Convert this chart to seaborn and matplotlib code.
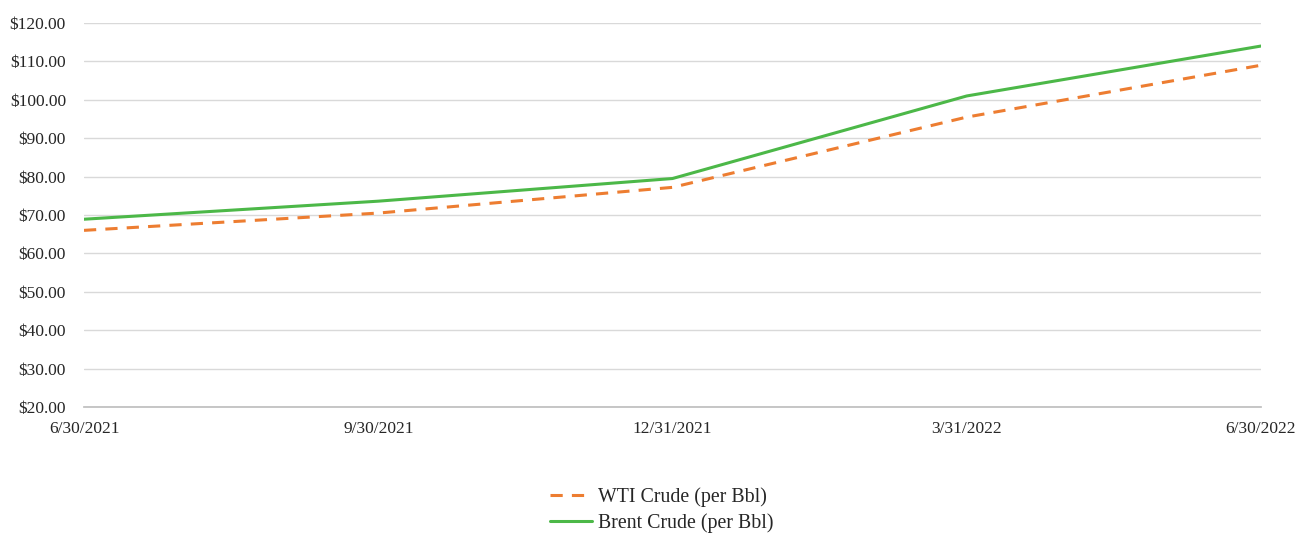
import matplotlib
matplotlib.use("Agg")
import matplotlib.pyplot as plt
import seaborn as sns
import pandas as pd
from matplotlib.lines import Line2D

dates = ["6/30/2021", "9/30/2021", "12/31/2021", "3/31/2022", "6/30/2022"]
wti = [66.0, 70.5, 77.2, 95.5, 109.0]
brent = [68.9, 73.6, 79.5, 101.0, 114.0]
y_ticks = [20, 30, 40, 50, 60, 70, 80, 90, 100, 110, 120]

sns.set_theme(style="white")
plt.rcParams['font.family'] = ['Liberation Serif', 'DejaVu Serif']

df = pd.DataFrame({
    "pos": list(range(len(dates))) * 2,
    "price": wti + brent,
    "series": ["WTI Crude (per Bbl)"] * len(dates) + ["Brent Crude (per Bbl)"] * len(dates),
})

fig = plt.figure(figsize=(12.98, 5.37), dpi=100)
ax = fig.add_axes([84/1298, 1 - 407/537, (1261-84)/1298, (407-23)/537])

palette = {"WTI Crude (per Bbl)": "#ED7D31", "Brent Crude (per Bbl)": "#4CB848"}
sns.lineplot(data=df, x="pos", y="price", hue="series", palette=palette,
             style="series", dashes={"WTI Crude (per Bbl)": (4, 3), "Brent Crude (per Bbl)": ""},
             linewidth=2.2, ax=ax, legend=False)

ax.set_xlim(0, len(dates) - 1)
ax.set_ylim(20, 120)
ax.set_yticks(y_ticks)
ax.set_yticklabels([f"${v:.2f}" for v in y_ticks], fontsize=12.5, color="#262626")
ax.set_xticks(range(len(dates)))
ax.set_xticklabels(dates, fontsize=12.5, color="#262626")
ax.set_xlabel("")
ax.set_ylabel("")
ax.grid(axis="y", color="#d9d9d9", linewidth=1)
ax.set_axisbelow(True)
for s in ["top", "right", "left"]:
    ax.spines[s].set_visible(False)
ax.spines["bottom"].set_color("#bfbfbf")
ax.tick_params(axis="y", length=0, pad=13)
ax.tick_params(axis="x", length=0, pad=10)

handles = [
    Line2D([0], [0], color="#ED7D31", linewidth=2.2, linestyle=(0, (4, 3))),
    Line2D([0], [0], color="#4CB848", linewidth=2.2),
]
fig.legend(handles, ["WTI Crude (per Bbl)", "Brent Crude (per Bbl)"],
           loc="center", bbox_to_anchor=(662/1298, 1 - 510/537), ncol=1,
           frameon=False, handlelength=2.1, handletextpad=0.3,
           labelspacing=0.3, prop={"size": 14.3})

fig.savefig("out.png", dpi=100)
